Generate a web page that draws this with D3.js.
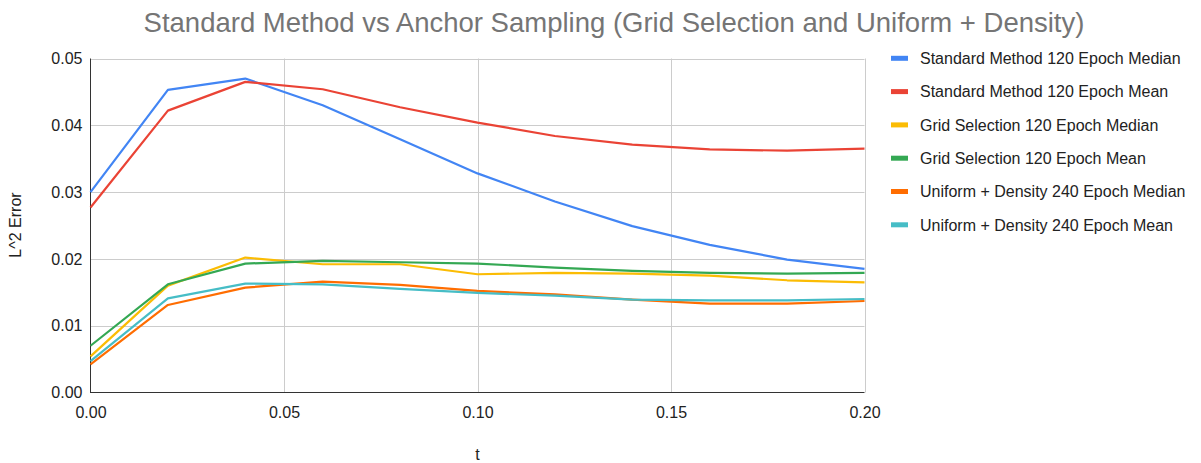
<!DOCTYPE html>
<html><head><meta charset="utf-8">
<script src="https://cdn.jsdelivr.net/npm/d3@7"></script>
<style>body{margin:0;background:#fff}svg{display:block;font-family:"Liberation Sans",Arial,sans-serif}</style>
</head><body><svg id="c" width="1201" height="463"></svg>
<script>
const tValues = [0, 0.02, 0.04, 0.06, 0.08, 0.10, 0.12, 0.14, 0.16, 0.18, 0.20];
const stdMedian = [0.0300, 0.0453, 0.0470, 0.0430, 0.0379, 0.0328, 0.0286, 0.0249, 0.0221, 0.0199, 0.0185];
const stdMean = [0.0277, 0.0422, 0.0465, 0.0454, 0.0427, 0.0404, 0.0384, 0.0371, 0.0364, 0.0362, 0.0365];
const gridMedian = [0.0054, 0.0160, 0.0202, 0.0192, 0.0192, 0.0177, 0.0179, 0.0178, 0.0175, 0.0168, 0.0165];
const gridMean = [0.0070, 0.0162, 0.0193, 0.0197, 0.0195, 0.0193, 0.0187, 0.0182, 0.0179, 0.0178, 0.0179];
const uniMedian = [0.0042, 0.0131, 0.0157, 0.0166, 0.0161, 0.0152, 0.0147, 0.0139, 0.0133, 0.0133, 0.0137];
const uniMean = [0.0047, 0.0141, 0.0163, 0.0162, 0.0155, 0.0149, 0.0145, 0.0139, 0.0138, 0.0138, 0.0140];
const seriesNames = ["Standard Method 120 Epoch Median","Standard Method 120 Epoch Mean","Grid Selection 120 Epoch Median","Grid Selection 120 Epoch Mean","Uniform + Density 240 Epoch Median","Uniform + Density 240 Epoch Mean"];
const seriesValues = [stdMedian, stdMean, gridMedian, gridMean, uniMedian, uniMean];
const colors = ["#4285F4","#EA4335","#FBBC04","#34A853","#FF6D01","#46BDC6"];
const xTicks = [0, 0.05, 0.10, 0.15, 0.20];
const yTicks = [0, 0.01, 0.02, 0.03, 0.04, 0.05];
const title = "Standard Method vs Anchor Sampling (Grid Selection and Uniform + Density)";

const svg = d3.select("#c");
const L = 90.5, R = 864.5, T = 58.5, B = 392.5;
const x = d3.scaleLinear().domain([0, 0.2]).range([L, R]);
const y = d3.scaleLinear().domain([0, 0.05]).range([B, T]);

// gridlines
svg.append("g").selectAll("line").data(yTicks.filter(d=>d>0)).join("line")
  .attr("x1", L).attr("x2", R).attr("y1", d=>Math.round(y(d))+0.5).attr("y2", d=>Math.round(y(d))+0.5)
  .attr("stroke", "#cccccc").attr("stroke-width", 1);
svg.append("g").selectAll("line").data(xTicks.filter(d=>d>0)).join("line")
  .attr("y1", T).attr("y2", B).attr("x1", d=>Math.round(x(d))+0.5).attr("x2", d=>Math.round(x(d))+0.5)
  .attr("stroke", "#cccccc").attr("stroke-width", 1);

// axes
const xAxis = d3.axisBottom(x).tickValues(xTicks).tickFormat(d3.format(".2f")).tickSize(0).tickPadding(0);
const gx = svg.append("g").attr("transform", `translate(0,${B})`).call(xAxis);
gx.select(".domain").remove();
gx.selectAll("text").attr("dy", null).attr("y", 25).attr("font-size", 16).attr("fill", "#222").attr("font-family", "Liberation Sans, Arial");
const yAxis = d3.axisLeft(y).tickValues(yTicks).tickFormat(d3.format(".2f")).tickSize(0).tickPadding(8);
const gy = svg.append("g").attr("transform", `translate(${L},0)`).call(yAxis);
gy.select(".domain").remove();
gy.selectAll("text").attr("font-size", 16).attr("fill", "#222").attr("font-family", "Liberation Sans, Arial");

svg.append("line").attr("x1", L).attr("x2", L).attr("y1", T).attr("y2", B+0.5).attr("stroke", "#333").attr("stroke-width", 1);
svg.append("line").attr("x1", L).attr("x2", R).attr("y1", B).attr("y2", B).attr("stroke", "#333").attr("stroke-width", 1);

// lines
const line = d3.line().x((d,i)=>x(tValues[i])).y(d=>y(d));
svg.append("g").selectAll("path").data(seriesValues).join("path")
  .attr("d", d=>line(d)).attr("fill", "none")
  .attr("stroke", (d,i)=>colors[i]).attr("stroke-width", 2.2).attr("stroke-linejoin", "round");

// title
svg.append("text").attr("x", 614).attr("y", 32).attr("text-anchor", "middle")
  .attr("font-size", 27.5).attr("fill", "#757575").text(title);

// axis titles
svg.append("text").attr("x", x(0.1)).attr("y", 460).attr("text-anchor", "middle")
  .attr("font-size", 16).attr("fill", "#222").text("t");
svg.append("text").attr("transform", "translate(21,225) rotate(-90)").attr("text-anchor", "middle")
  .attr("font-size", 16).attr("fill", "#222").text("L^2 Error");

// legend
const lg = svg.append("g").selectAll("g").data(seriesNames).join("g")
  .attr("transform", (d,i)=>`translate(891,${58.3 + i*33.3})`);
lg.append("rect").attr("x", 0).attr("y", -2.5).attr("width", 17).attr("height", 5).attr("fill", (d,i)=>colors[i]);
lg.append("text").attr("x", 29).attr("y", 5.7).attr("font-size", 16).attr("fill", "#222").text(d=>d);
</script></body></html>
